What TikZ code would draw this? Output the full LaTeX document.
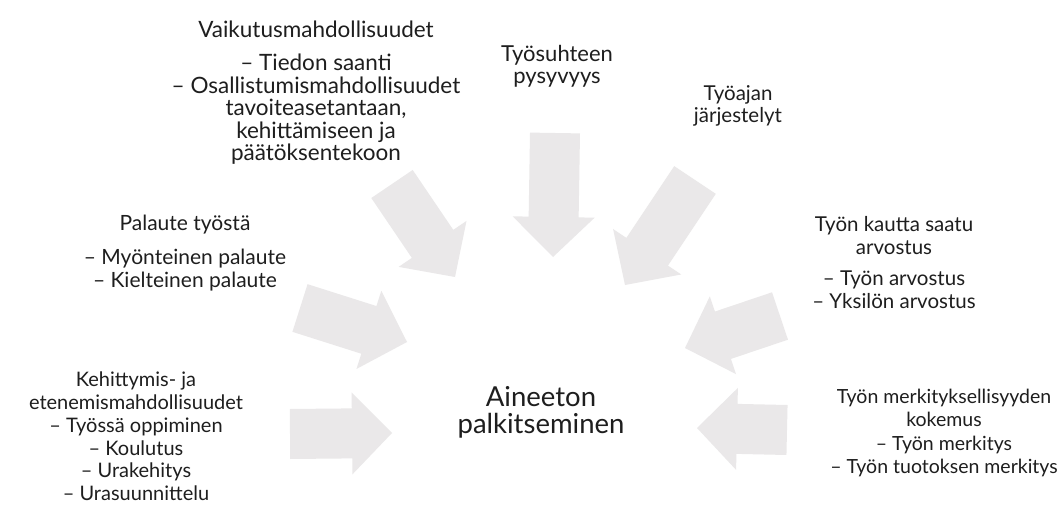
\documentclass[tikz,border=0pt]{standalone}
\usepackage{fontspec}
\setmainfont{Lato}
\usetikzlibrary{calc}
\definecolor{arrowgray}{RGB}{234,232,233}
\definecolor{txt}{RGB}{30,30,30}
\tikzset{
  lbl/.style={align=center, anchor=base, inner sep=0pt, text=txt, font=\fontsize{19.5}{22.5}\selectfont},
  size/.style={font=\fontsize{#1}{22.5}\selectfont},
  centrelbl/.style={lbl, font=\fontsize{27.5}{26.5}\selectfont},
  barrow/.style={fill=arrowgray, draw=none},
}
\newcommand\blockarrow[2]{%
  \coordinate (#1b) at ($(#2)!40pt!(#1)$);
  \fill[barrow] ($(#1)!25pt!90:(#2)$) -- ($(#1b)!25pt!90:(#2)$) -- ($(#1b)!41pt!90:(#2)$) -- (#2)
     -- ($(#1b)!41pt!-90:(#2)$) -- ($(#1b)!25pt!-90:(#2)$) -- ($(#1)!25pt!-90:(#2)$) -- cycle;
}
\begin{document}
\begin{tikzpicture}[x=1pt,y=-1pt]
\useasboundingbox[fill=white] (0,0) rectangle (1057,513);
% arrows
\coordinate (a1t) at (392,184); \coordinate (a1p) at (455,277);
\coordinate (a2t) at (555,133); \coordinate (a2p) at (553,257);
\coordinate (a3t) at (695,180); \coordinate (a3p) at (625,285);
\coordinate (a4t) at (300,308); \coordinate (a4p) at (407,342);
\coordinate (a5t) at (290,434); \coordinate (a5p) at (392,433);
\coordinate (a6t) at (780,316); \coordinate (a6p) at (685,348);
\coordinate (a7t) at (787,430); \coordinate (a7p) at (697,428);
\blockarrow{a1t}{a1p}
\blockarrow{a2t}{a2p}
\blockarrow{a3t}{a3p}
\blockarrow{a4t}{a4p}
\blockarrow{a5t}{a5p}
\blockarrow{a6t}{a6p}
\blockarrow{a7t}{a7p}
% texts (anchored at the baseline of their last line)
\node[lbl, size=22.5] (vaik) at (316,161) {Vaikutusmahdollisuudet\\[11pt]– Tiedon saanti\\– Osallistumismahdollisuudet\\tavoiteasetantaan,\\kehittämiseen ja\\päätöksentekoon};
\node[lbl, size=22] (pysy) at (557,84) {Työsuhteen\\pysyvyys};
\node[lbl, size=20.5] (tyoaika) at (738,123) {Työajan\\järjestelyt};
\node[lbl, size=21] (pal) at (185,287) {Palaute työstä\\[12pt]– Myönteinen palaute\\– Kielteinen palaute};
\node[lbl, size=20] (keh) at (136,500) {Kehittymis- ja\\etenemismahdollisuudet\\[1pt]– Työssä oppiminen\\– Koulutus\\– Urakehitys\\– Urasuunnittelu};
\node[lbl, size=20.5] (arv) at (894,308) {Työn kautta saatu\\arvostus\\[9pt]– Työn arvostus\\– Yksilön arvostus};
\node[lbl] (merk) at (944,473) {Työn merkityksellisyyden\\kokemus\\[2pt]– Työn merkitys\\– Työn tuotoksen merkitys};
\node[centrelbl] (aine) at (541,433) {Aineeton\\palkitseminen};
\end{tikzpicture}
\end{document}
